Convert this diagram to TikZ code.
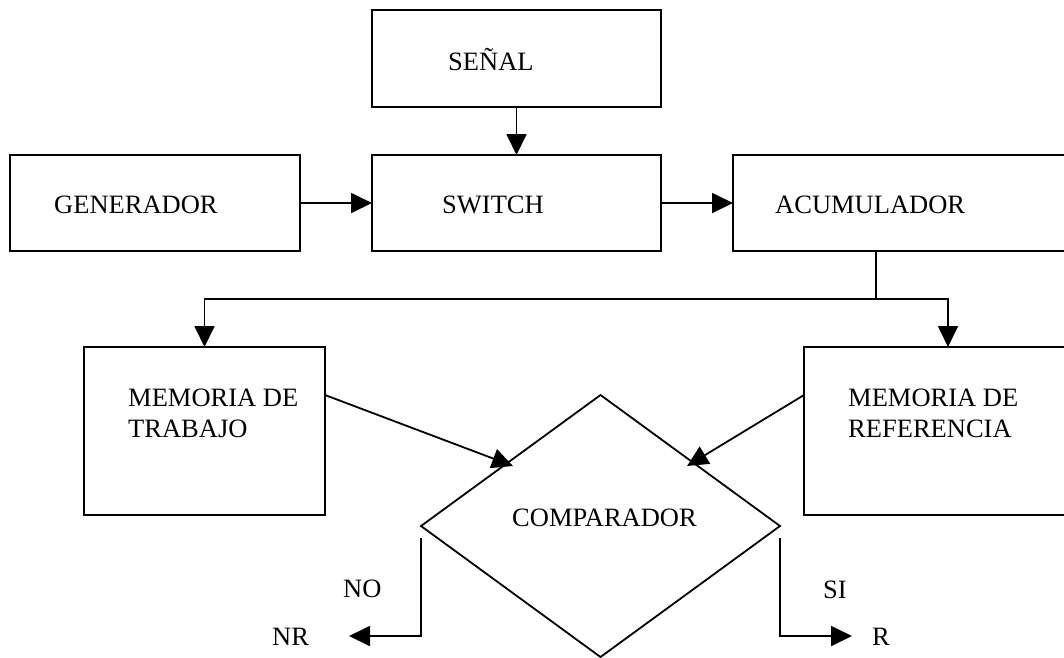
\documentclass[tikz,border=0pt]{standalone}
\usepackage{fontspec}
\setmainfont{Liberation Serif}
\usetikzlibrary{arrows.meta,shapes.geometric}
\begin{document}
\begin{tikzpicture}[x=1pt,y=-1pt,
  box/.style={draw, line width=1.8pt, rectangle, inner sep=0pt, outer sep=0pt},
  lbl/.style={anchor=base west, inner sep=0pt, font=\fontsize{26.5}{31}\selectfont},
  arr/.style={line width=1.8pt, -{Triangle[length=21pt,width=20pt]}},
  ln/.style={line width=1.8pt}]
\useasboundingbox (0,0) rectangle (1064,657);
\clip (0,0) rectangle (1064,657);
% boxes
\node[box, minimum width=289pt, minimum height=97pt] (senal) at (516.5,58.5) {};
\node[box, minimum width=290pt, minimum height=96pt] (gen) at (155,203) {};
\node[box, minimum width=289pt, minimum height=96pt] (sw) at (516.5,203) {};
\node[box, minimum width=400pt, minimum height=96pt] (acu) at (933,203) {};
\node[box, minimum width=241pt, minimum height=168pt] (mt) at (204.5,431) {};
\node[box, minimum width=288pt, minimum height=168pt] (mr) at (948,431) {};
\node[draw, diamond, line width=1.8pt, minimum width=359pt, minimum height=262pt, inner sep=0pt, outer sep=0pt] (cmp) at (600.5,526) {};
% labels
\node[lbl] (tsenal) at (448,70) {SEÑAL};
\node[lbl] (tgen) at (54,213) {GENERADOR};
\node[lbl] (tsw) at (442,213) {SWITCH};
\node[lbl] (tacu) at (775,213) {ACUMULADOR};
\node[lbl, align=left] (tmt) at (128,437) {MEMORIA DE\\TRABAJO};
\node[lbl, align=left] (tmr) at (848,437) {MEMORIA DE\\REFERENCIA};
\node[lbl] (tcmp) at (512,526) {COMPARADOR};
\node[lbl] (tno) at (343,597) {NO};
\node[lbl] (tnr) at (272,645) {NR};
\node[lbl] (tsi) at (823,598) {SI};
\node[lbl] (tr) at (872,645) {R};
% connectors
\draw[arr] (senal.south) -- (sw.north);
\draw[arr] (gen.east) -- (sw.west);
\draw[arr] (sw.east) -- (acu.west);
\coordinate (split) at (876,299);
\draw[ln] (split |- acu.south) -- (split);
\draw[arr] (split) -| (mt.north);
\draw[arr] (split) -| (mr.north);
\coordinate (inL) at (513,466);
\coordinate (inR) at (687,466);
\draw[arr] ([yshift=-48pt]mt.north east) -- (inL);
\draw[arr] ([yshift=-48pt]mr.north west) -- (inR);
\coordinate (nrtip) at (349,636);
\coordinate (rtip) at (852,636);
\draw[arr] ([yshift=-12pt]cmp.west) |- (nrtip);
\draw[arr] ([yshift=-12pt]cmp.east) |- (rtip);
\end{tikzpicture}
\end{document}
